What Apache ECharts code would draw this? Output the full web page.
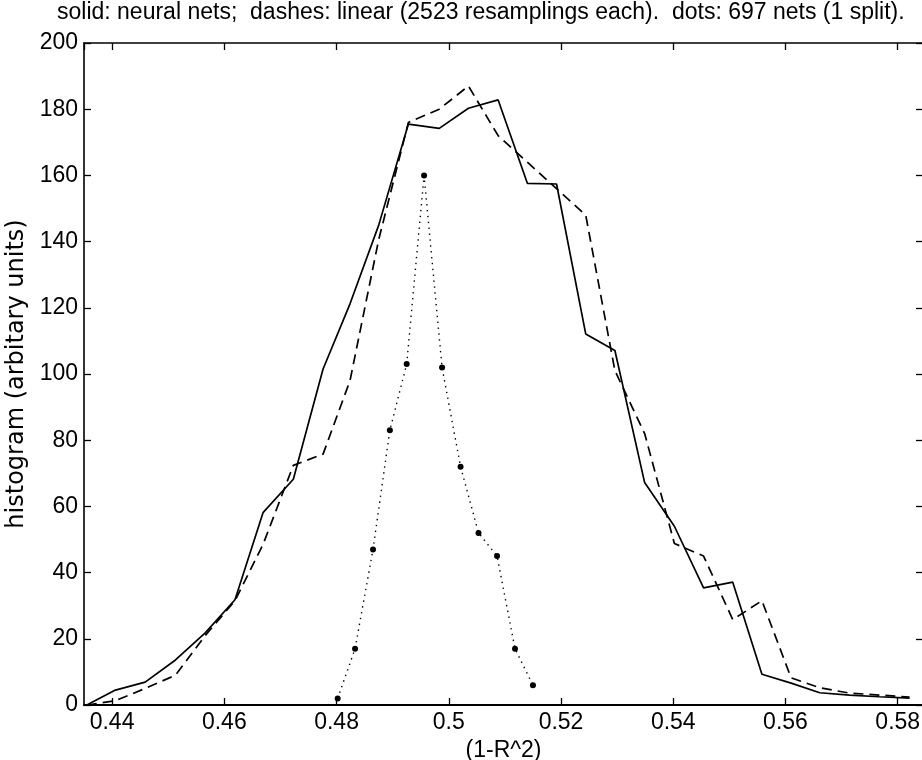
<!DOCTYPE html>
<html><head><meta charset="utf-8">
<script src="https://cdn.jsdelivr.net/npm/echarts@6/dist/echarts.min.js"></script>
<style>html,body{margin:0;padding:0;background:#fff}#c{width:922px;height:760px}</style>
</head><body><div id="c"></div>
<script>
// bin centres shared by the neural-net (solid) and linear (dashed) histograms
const binX = [0.4355, 0.4406, 0.4459, 0.4513, 0.4566, 0.4619, 0.4669, 0.4723, 0.4776, 0.4824,
              0.4875, 0.4928, 0.4983, 0.5035, 0.5088, 0.5140, 0.5192, 0.5244, 0.5296, 0.5349,
              0.5402, 0.5454, 0.5506, 0.5558, 0.5610, 0.5661, 0.5714, 0.5767, 0.5821];
const solidY = [0, 4.5, 6.9, 13.6, 21.8, 31.8, 58.1, 68.2, 101.5, 121.2,
                144.9, 175.5, 174.2, 180.3, 182.8, 157.6, 157.4, 112.1, 107.1, 67.2,
                54.0, 35.4, 37.1, 9.3, 6.6, 3.7, 3.0, 2.5, 2.1];
const dashedY = [0, 1.3, 5, 9, 21, 31.5, 48.5, 72.4, 75.8, 98,
                 140.5, 176, 180, 187, 172, 164, 156, 148, 101, 82,
                 48.8, 45, 25.8, 31.5, 8.2, 5.2, 3.6, 3.0, 2.4];
// 697 nets, single split (dots)
const dotX = [0.4802, 0.4833, 0.4865, 0.4895, 0.4925, 0.4956, 0.4988, 0.5021, 0.5053, 0.5086, 0.5118, 0.5150];
const dotY = [2, 17, 47, 83, 103, 160, 102, 72, 52, 45, 17, 6];

const titleText = 'solid: neural nets;  dashes: linear (2523 resamplings each).  dots: 697 nets (1 split).';
const xLabel = '(1-R^2)';
const yLabel = 'histogram (arbitary units)';
const xMin = 0.435, xMax = 0.5845, xStep = 0.02;
const yMin = 0, yMax = 200, yStep = 20;

const pairs = (xs, ys) => xs.map((x, i) => [x, ys[i]]);
const font = "'Liberation Sans', Arial, Helvetica, sans-serif";
const axisLineOf = w => ({show: true, onZero: false, lineStyle: {color: '#000', width: w}});
const tick = {show: true, inside: true, length: 7, lineStyle: {color: '#000', width: 1.3}};
const lbl = {fontFamily: font, fontSize: 23, color: '#000'};

const chart = echarts.init(document.getElementById('c'), null, {renderer: 'canvas'});
chart.setOption({
  animation: false,
  backgroundColor: '#fff',
  title: {text: titleText, left: 57, top: 1, padding: 0,
          textStyle: {fontFamily: font, fontSize: 23, fontWeight: 'normal', color: '#000'}},
  grid: {left: 84, right: -1, top: 43, bottom: 55, containLabel: false, outerBoundsMode: 'none'},
  xAxis: [
    {type: 'value', min: xMin, max: xMax, minInterval: xStep, maxInterval: xStep, position: 'bottom',
     axisLine: axisLineOf(2), axisTick: tick, splitLine: {show: false},
     axisLabel: Object.assign({showMinLabel: false, showMaxLabel: false, margin: 6}, lbl),
     name: xLabel, nameLocation: 'middle', nameGap: 29, nameTextStyle: lbl},
    {type: 'value', min: xMin, max: xMax, minInterval: xStep, maxInterval: xStep, position: 'top',
     axisLine: axisLineOf(1.6), axisTick: tick, splitLine: {show: false}, axisLabel: {show: false}}
  ],
  yAxis: [
    {type: 'value', min: yMin, max: yMax, interval: yStep, position: 'left',
     axisLine: axisLineOf(1.6), axisTick: tick, splitLine: {show: false},
     axisLabel: Object.assign({margin: 6}, lbl),
     name: yLabel, nameLocation: 'middle', nameGap: 52,
     nameTextStyle: {fontFamily: "'DejaVu Sans', sans-serif", fontSize: 24, color: '#000'}},
    {type: 'value', min: yMin, max: yMax, interval: yStep, position: 'right',
     axisLine: axisLineOf(1.6), axisTick: tick, splitLine: {show: false}, axisLabel: {show: false}}
  ],
  series: [
    {name: 'neural nets', type: 'line', data: pairs(binX, solidY), symbol: 'none',
     lineStyle: {color: '#000', width: 1.7, type: 'solid'}},
    {name: 'linear', type: 'line', data: pairs(binX, dashedY), symbol: 'none',
     lineStyle: {color: '#000', width: 1.7, type: [10, 6]}},
    {name: '697 nets', type: 'line', data: pairs(dotX, dotY), symbol: 'circle', symbolSize: 6,
     itemStyle: {color: '#000'}, lineStyle: {color: '#000', width: 1.4, type: [1.4, 4.5]}}
  ]
});
</script></body></html>
